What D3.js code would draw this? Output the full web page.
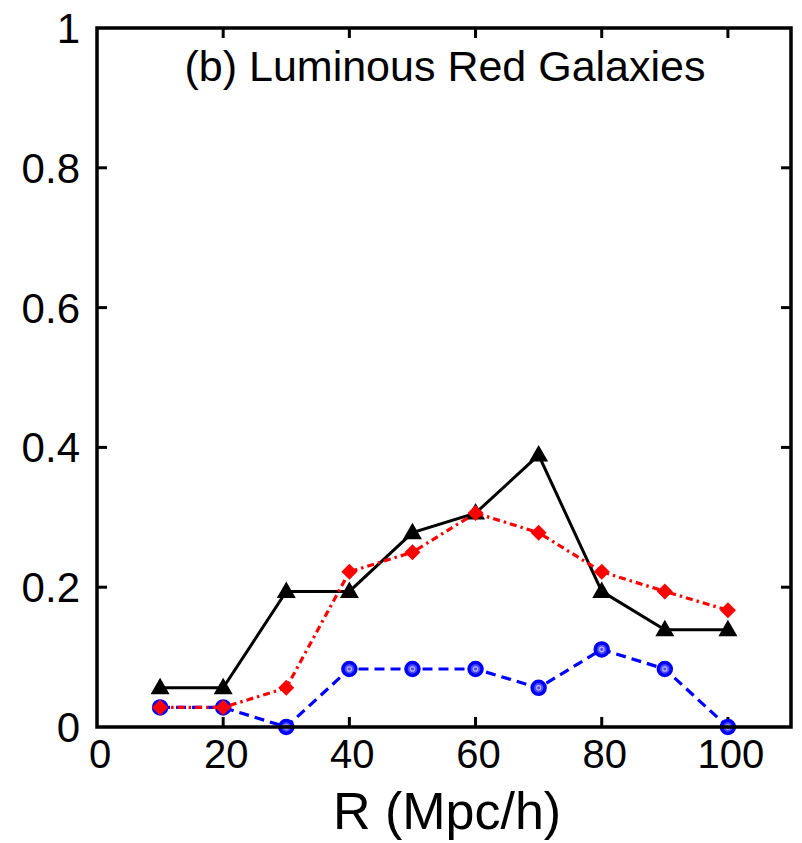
<!DOCTYPE html>
<html>
<head>
<meta charset="utf-8">
<script src="https://cdn.jsdelivr.net/npm/d3@7"></script>
<style>
  body { margin: 0; background: #fff; }
  svg { display: block; font-family: "Liberation Sans", Arial, sans-serif; }
</style>
</head>
<body>
<svg width="802" height="843"></svg>
<script>
var width = 802;
var height = 843;
var margin = {left: 97, right: 9, top: 28, bottom: 116};

// radius bins (Mpc/h)
var radius = [10, 20, 30, 40, 50, 60, 70, 80, 90, 100];
// three series
var blackVals = [0.056, 0.056, 0.194, 0.194, 0.278, 0.306, 0.389, 0.194, 0.139, 0.139];
var redVals   = [0.028, 0.028, 0.056, 0.222, 0.25, 0.306, 0.278, 0.222, 0.194, 0.167];
var blueVals  = [0.028, 0.028, 0, 0.083, 0.083, 0.083, 0.056, 0.111, 0.083, 0];

var xTicks = [0, 20, 40, 60, 80, 100];
var yTicks = [0, 0.2, 0.4, 0.6, 0.8, 1];
var yTickLabels = ["0", "0.2", "0.4", "0.6", "0.8", "1"];

var svg = d3.select('svg');

var xScale = d3.scaleLinear().domain([0, 110]).range([margin.left, width - margin.right - 2]);
var yScale = d3.scaleLinear().domain([0, 1]).range([height - margin.bottom, margin.top]);

var x0 = xScale.range()[0], x1 = xScale.range()[1];
var y0 = yScale.range()[0], y1 = yScale.range()[1];
var tickLen = 10;

// inner tick marks on all four sides
var ticks = svg.append('g').attr('stroke', '#000').attr('stroke-width', 3);
xTicks.forEach(function(t) {
  if (t === 0) return;
  ticks.append('line').attr('x1', xScale(t)).attr('x2', xScale(t)).attr('y1', y0).attr('y2', y0 - tickLen);
  ticks.append('line').attr('x1', xScale(t)).attr('x2', xScale(t)).attr('y1', y1).attr('y2', y1 + tickLen);
});
yTicks.forEach(function(t) {
  if (t === 0 || t === 1) return;
  ticks.append('line').attr('x1', x0).attr('x2', x0 + tickLen).attr('y1', yScale(t)).attr('y2', yScale(t));
  ticks.append('line').attr('x1', x1).attr('x2', x1 - tickLen).attr('y1', yScale(t)).attr('y2', yScale(t));
});

// tick labels
svg.append('g').selectAll('text')
  .data(xTicks)
  .enter()
  .append('text')
  .attr('x', function(d) { return xScale(d) + 3; })
  .attr('y', y0 + 41)
  .attr('text-anchor', 'middle')
  .style('font-size', '40px')
  .text(function(d) { return d; });

svg.append('g').selectAll('text')
  .data(yTicks)
  .enter()
  .append('text')
  .attr('x', x0 - 17)
  .attr('y', function(d) { return yScale(d) + 15; })
  .attr('text-anchor', 'end')
  .style('font-size', '42px')
  .text(function(d, i) { return yTickLabels[i]; });

// series
var line = d3.line()
  .x(function(d) { return xScale(d[0]); })
  .y(function(d) { return yScale(d[1]); });

function pairs(vals) {
  return radius.map(function(r, i) { return [r, vals[i]]; });
}

var plot = svg.append('g');

// black solid with triangles
plot.append('path')
  .datum(pairs(blackVals))
  .attr('d', line)
  .attr('fill', 'none')
  .attr('stroke', '#000')
  .attr('stroke-width', 3);

plot.selectAll('.tri')
  .data(pairs(blackVals))
  .enter()
  .append('path')
  .attr('class', 'tri')
  .attr('transform', function(d) { return 'translate(' + xScale(d[0]) + ',' + yScale(d[1]) + ')'; })
  .attr('d', 'M0,-10L9.5,6.5L-9.5,6.5Z')
  .attr('fill', '#000');

// blue dashed with open circles
plot.append('path')
  .datum(pairs(blueVals))
  .attr('d', line)
  .attr('fill', 'none')
  .attr('stroke', '#0000ff')
  .attr('stroke-width', 3.2)
  .attr('stroke-dasharray', '10,6');

var circ = plot.selectAll('.circ')
  .data(pairs(blueVals))
  .enter()
  .append('g')
  .attr('transform', function(d) { return 'translate(' + xScale(d[0]) + ',' + yScale(d[1]) + ')'; });
circ.append('circle')
  .attr('r', 6.5)
  .attr('fill', '#4d4dff')
  .attr('stroke', '#0000ff')
  .attr('stroke-width', 3.5);
circ.append('circle')
  .attr('r', 2.2)
  .attr('fill', 'none')
  .attr('stroke', '#b3b3ff')
  .attr('stroke-width', 1.2);

// red dash-dot with diamonds
plot.append('path')
  .datum(pairs(redVals))
  .attr('d', line)
  .attr('fill', 'none')
  .attr('stroke', '#ff0000')
  .attr('stroke-width', 3.2)
  .attr('stroke-dasharray', '7,4,2.5,4');

plot.selectAll('.dia')
  .data(pairs(redVals))
  .enter()
  .append('path')
  .attr('class', 'dia')
  .attr('transform', function(d) { return 'translate(' + xScale(d[0]) + ',' + yScale(d[1]) + ')'; })
  .attr('d', 'M0,-8L8,0L0,8L-8,0Z')
  .attr('fill', '#ff0000');

// frame
svg.append('rect')
  .attr('x', x0)
  .attr('y', y1)
  .attr('width', x1 - x0)
  .attr('height', y0 - y1)
  .attr('fill', 'none')
  .attr('stroke', '#000')
  .attr('stroke-width', 3.5);

// title inside the plot
svg.append('text')
  .attr('x', 445)
  .attr('y', 81)
  .attr('text-anchor', 'middle')
  .style('font-size', '43px')
  .text('(b) Luminous Red Galaxies');

// x axis label
svg.append('text')
  .attr('x', 447)
  .attr('y', 829)
  .attr('text-anchor', 'middle')
  .style('font-size', '52px')
  .text('R (Mpc/h)');
</script>
</body>
</html>
